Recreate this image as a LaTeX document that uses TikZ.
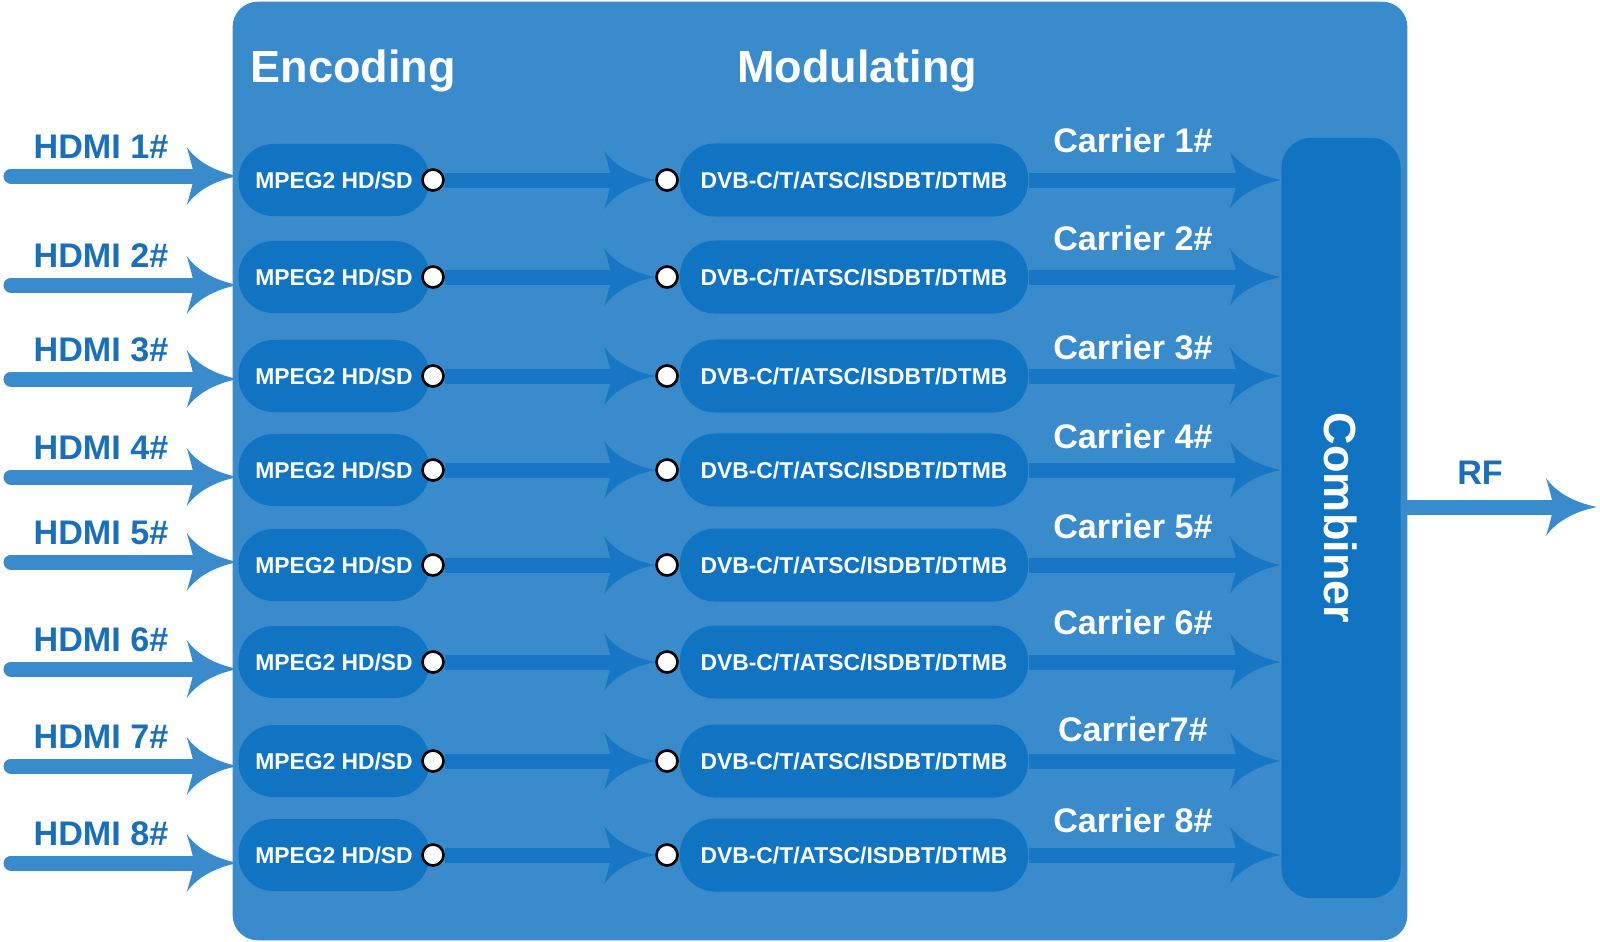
\documentclass[tikz,border=0pt]{standalone}
\usepackage{fontspec}
\setmainfont{Liberation Sans}
\usetikzlibrary{arrows.meta}
\definecolor{boxlight}{HTML}{3A8BCC}
\definecolor{boxdark}{HTML}{1174C3}
\definecolor{labelblue}{HTML}{1B6FB6}
% arrow head with swept, curved barbs
\pgfdeclarearrow{
	name = Fin,
	parameters = {\the\pgfarrowlength,\the\pgfarrowwidth},
	setup code = {
		\pgfarrowssettipend{0pt}
		\pgfarrowssetlineend{-.85\pgfarrowlength}
		\pgfarrowssetbackend{-\pgfarrowlength}
		\pgfarrowshullpoint{0pt}{0pt}
		\pgfarrowsupperhullpoint{-\pgfarrowlength}{.5\pgfarrowwidth}
		\pgfarrowssavethe\pgfarrowlength
		\pgfarrowssavethe\pgfarrowwidth
	},
	drawing code = {
		\pgfpathmoveto{\pgfqpoint{0pt}{0pt}}
		\pgfpathcurveto{\pgfqpoint{-.45\pgfarrowlength}{.08\pgfarrowwidth}}{\pgfqpoint{-.8\pgfarrowlength}{.25\pgfarrowwidth}}{\pgfqpoint{-\pgfarrowlength}{.5\pgfarrowwidth}}
		\pgfpathcurveto{\pgfqpoint{-.93\pgfarrowlength}{.3\pgfarrowwidth}}{\pgfqpoint{-.88\pgfarrowlength}{.12\pgfarrowwidth}}{\pgfqpoint{-.85\pgfarrowlength}{0pt}}
		\pgfpathcurveto{\pgfqpoint{-.88\pgfarrowlength}{-.12\pgfarrowwidth}}{\pgfqpoint{-.93\pgfarrowlength}{-.3\pgfarrowwidth}}{\pgfqpoint{-\pgfarrowlength}{-.5\pgfarrowwidth}}
		\pgfpathcurveto{\pgfqpoint{-.8\pgfarrowlength}{-.25\pgfarrowwidth}}{\pgfqpoint{-.45\pgfarrowlength}{-.08\pgfarrowwidth}}{\pgfqpoint{0pt}{0pt}}
		\pgfpathclose
		\pgfusepathqfill
	},
	defaults = {length=5mm,width=5mm}
}
\tikzset{
	% Boxes of the device: the outer frame, the channel boxes and the combiner
	device box/.style={rectangle,rounded corners=0.25cm,fill=boxlight,minimum width=11.74cm,minimum height=9.38cm,inner sep=0},
	enc node/.style={rectangle,rounded corners=0.35cm,fill=boxdark,text=white,font=\fontsize{6.5}{7}\selectfont\bfseries,minimum width=1.91cm,minimum height=0.72cm,inner sep=0},
	mod node/.style={enc node,minimum width=3.48cm,minimum height=0.73cm},
	comb box/.style={rectangle,rounded corners=0.3cm,fill=boxdark,minimum width=1.19cm,minimum height=7.6cm,inner sep=0},
	port node/.style={circle,draw=black,fill=white,line width=0.75pt,minimum size=0.21cm,inner sep=0},
	% Texts
	title/.style={text=white,font=\fontsize{12.8}{14}\selectfont\bfseries},
	hdmi label/.style={text=labelblue,font=\fontsize{9.7}{11}\selectfont\bfseries},
	carrier label/.style={text=white,font=\fontsize{9.7}{11}\selectfont\bfseries},
	comb text/.style={rotate=-90,text=white,font=\fontsize{12.8}{14}\selectfont\bfseries},
	% Thick arrows
	fat arrow/.style={line width=0.15cm,-{Fin[length=0.51cm,width=0.58cm]}},
	input arrow/.style={draw=boxlight,fill=boxlight},
	inner arrow/.style={draw=boxdark!85!boxlight,fill=boxdark!85!boxlight}
}
\begin{document}
\begin{tikzpicture}[x=0.01cm,y=-0.01cm]
	\useasboundingbox (0,0) rectangle (1600,941);
	% macro for one channel: number, row, input arrow height, carrier text, carrier label height
	\newcommand{\channel}[5]{
		\node(enc#1)[enc node] at (334,#2){MPEG2 HD/SD};
		\node(inA#1)[port node] at (433,#2){};
		\node(inB#1)[port node] at (667,#2){};
		\node(mod#1)[mod node] at (854,#2){DVB-C/T/ATSC/ISDBT/DTMB};
		\coordinate(src#1) at (11,#3);
		\node[hdmi label] at (101,#3-29){HDMI #1\#};
		\node[carrier label] at (1133,#5){#4};
		\draw[fat arrow,input arrow,line cap=round] (src#1) -- (src#1 -| enc#1.west);
		\draw[fat arrow,inner arrow] (inA#1) -- (inB#1);
		\draw[fat arrow,inner arrow] (mod#1) -- (mod#1 -| comb.west);
	}
	
	\node(device)[device box] at (820,471){};
	\node(enctitle)[title] at (353,71){Encoding};
	\node(modtitle)[title] at (857,71){Modulating};
	\node(comb)[comb box,label={[comb text]center:Combiner}] at (1341,518){};
	
	\channel{1}{180}{176}{Carrier 1\#}{140}
	\channel{2}{277}{285}{Carrier 2\#}{238}
	\channel{3}{376}{379}{Carrier 3\#}{347}
	\channel{4}{470}{477}{Carrier 4\#}{436}
	\channel{5}{565}{562}{Carrier 5\#}{526}
	\channel{6}{662}{669}{Carrier 6\#}{622}
	\channel{7}{761}{766}{Carrier7\#}{729}
	\channel{8}{855}{863}{Carrier 8\#}{820}
	
	% output of the combiner
	\coordinate(rfend) at (1597,507);
	\draw[fat arrow,input arrow] (comb.east |- rfend) -- (rfend);
	\node(rf)[hdmi label] at (1480,473){RF};
\end{tikzpicture}
\end{document}
